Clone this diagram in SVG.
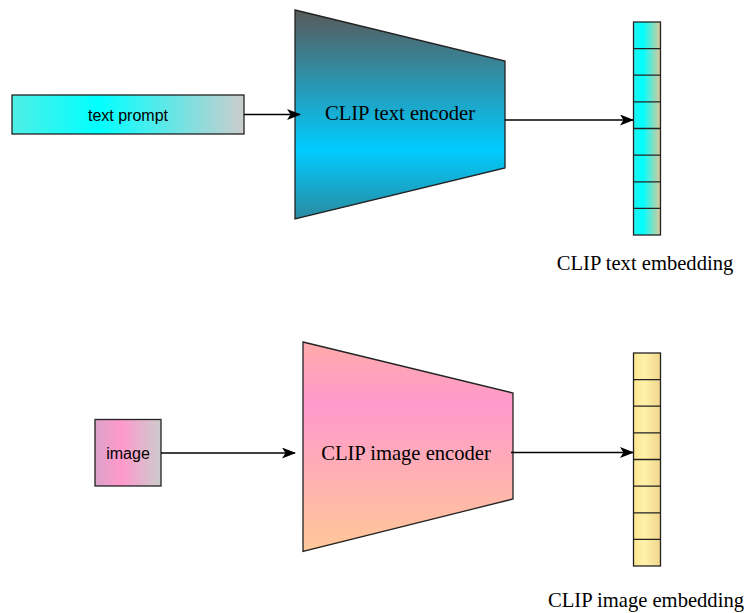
<svg xmlns="http://www.w3.org/2000/svg" width="747" height="613" viewBox="0 0 747 613">
  <style>
    .box { stroke: #222; stroke-width: 1.3; }
    .sans { font-family: "Liberation Sans", Arial, sans-serif; font-size: 16px; fill: #000; text-anchor: middle; }
    .serif { font-family: "Liberation Serif", "Times New Roman", serif; font-size: 20.6px; fill: #000; text-anchor: middle; }
    .link { stroke: #000; stroke-width: 1.3; fill: none; marker-end: url(#arrow); }
    .cell { fill: none; stroke: #222; stroke-width: 1.3; }
  </style>
  <defs>
    <marker id="arrow" markerWidth="14" markerHeight="11" refX="13" refY="5.5" orient="auto" markerUnits="userSpaceOnUse">
      <path d="M0,0 L14,5.5 L0,11 L3.5,5.5 Z" fill="#000"/>
    </marker>
    <linearGradient id="gPrompt" x1="0" y1="0" x2="1" y2="0">
      <stop offset="0" stop-color="#50eee6"/>
      <stop offset="0.37" stop-color="#00ffff"/>
      <stop offset="1" stop-color="#cccccc"/>
    </linearGradient>
    <linearGradient id="gTextEnc" x1="0" y1="0" x2="0" y2="1">
      <stop offset="0" stop-color="#595959"/>
      <stop offset="0.67" stop-color="#00ccff"/>
      <stop offset="1" stop-color="#2a8aa0"/>
    </linearGradient>
    <linearGradient id="gTextEmb" x1="0" y1="0" x2="1" y2="0">
      <stop offset="0" stop-color="#22f2ee"/>
      <stop offset="0.35" stop-color="#00ffff"/>
      <stop offset="1" stop-color="#dcc89a"/>
    </linearGradient>
    <linearGradient id="gImage" x1="0" y1="0" x2="1" y2="0">
      <stop offset="0" stop-color="#dca2c8"/>
      <stop offset="0.4" stop-color="#ff99cc"/>
      <stop offset="1" stop-color="#cccccc"/>
    </linearGradient>
    <linearGradient id="gImgEnc" x1="0" y1="0" x2="0" y2="1">
      <stop offset="0" stop-color="#ffabaa"/>
      <stop offset="0.3" stop-color="#ff99cc"/>
      <stop offset="1" stop-color="#ffc898"/>
    </linearGradient>
    <linearGradient id="gImgEmb" x1="0" y1="0" x2="1" y2="0">
      <stop offset="0" stop-color="#ffe590"/>
      <stop offset="0.4" stop-color="#fff2aa"/>
      <stop offset="1" stop-color="#f0d68c"/>
    </linearGradient>
  </defs>

  <!-- text branch -->
  <g id="text-prompt">
    <rect class="box" x="12" y="95" width="232" height="39" fill="url(#gPrompt)"/>
    <text class="sans" x="128" y="121">text prompt</text>
  </g>
  <g id="clip-text-encoder">
    <polygon class="box" points="295,10 505,61 505,168 295,219" fill="url(#gTextEnc)"/>
    <text class="serif" x="400" y="120">CLIP text encoder</text>
  </g>
  <g id="clip-text-embedding">
    <rect x="633.5" y="22" width="27" height="213" fill="url(#gTextEmb)"/>
    <rect class="cell" x="633.5" y="22" width="27" height="213"/>
    <path class="cell" d="M633.5,48.6 H660.5 M633.5,75.2 H660.5 M633.5,101.9 H660.5 M633.5,128.5 H660.5 M633.5,155.1 H660.5 M633.5,181.8 H660.5 M633.5,208.4 H660.5"/>
    <text class="serif" x="645" y="270">CLIP text embedding</text>
  </g>

  <!-- image branch -->
  <g id="image">
    <rect class="box" x="95" y="419.5" width="66" height="66.5" fill="url(#gImage)"/>
    <text class="sans" x="128" y="459">image</text>
  </g>
  <g id="clip-image-encoder">
    <polygon class="box" points="303,342 513,393 513,499 303,551.5" fill="url(#gImgEnc)"/>
    <text class="serif" x="406" y="460">CLIP image encoder</text>
  </g>
  <g id="clip-image-embedding">
    <rect x="633.5" y="353" width="27" height="213" fill="url(#gImgEmb)"/>
    <rect class="cell" x="633.5" y="353" width="27" height="213"/>
    <path class="cell" d="M633.5,379.6 H660.5 M633.5,406.2 H660.5 M633.5,432.9 H660.5 M633.5,459.5 H660.5 M633.5,486.1 H660.5 M633.5,512.8 H660.5 M633.5,539.4 H660.5"/>
    <text class="serif" x="646" y="607">CLIP image embedding</text>
  </g>

  <g id="connectors">
    <path class="link" d="M244,114.5 H300"/>
    <path class="link" d="M505,120 H633"/>
    <path class="link" d="M161,453 H295"/>
    <path class="link" d="M511,452.5 H633"/>
  </g>
</svg>
